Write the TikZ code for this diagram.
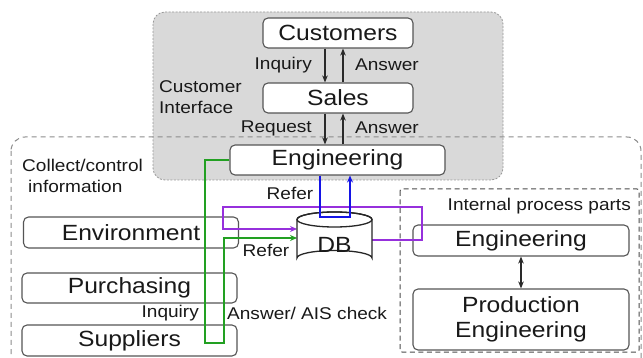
\documentclass[tikz,border=0pt]{standalone}
\usepackage{fontspec}
\setmainfont{Liberation Sans}[FakeStretch=1.12]
\usetikzlibrary{arrows.meta}
\newcommand\fbig{\fontsize{22}{25}\selectfont}
\newcommand\fsmall{\fontsize{17}{21}\selectfont}
\definecolor{boxc}{HTML}{555555}
\definecolor{grn}{HTML}{22A022}
\definecolor{blu}{HTML}{1414E6}
\definecolor{pur}{HTML}{9630DC}
\definecolor{darr}{HTML}{2A2A2A}
\tikzset{
  box/.style={draw=boxc, rounded corners=5, line width=1.1, fill=white, font=\fbig, inner sep=0, text=black!90},
  lbl/.style={font=\fsmall, inner sep=0, text=black!90},
  arr/.style={-{Stealth[length=7,width=5.5]}, line width=1.3, draw=darr},
  gline/.style={draw=grn, line width=1.5, -{Stealth[length=7,width=6]}},
  bline/.style={draw=blu, line width=1.5, -{Stealth[length=7,width=6]}},
  pline/.style={draw=pur, line width=1.5, -{Stealth[length=7,width=6]}},
}
\begin{document}
\begin{tikzpicture}[x=1pt,y=-1pt]
\clip (0,0) rectangle (643,358);
\fill[white] (0,0) rectangle (643,358);
% regions
\draw[fill=black!15, draw=black!40, line width=0.8, dash pattern=on 2pt off 1.5pt, rounded corners=12] (153,12) rectangle (503,180);
\draw[draw=black!45, line width=1.0, dash pattern=on 5pt off 4pt, rounded corners=14] (11,137) rectangle (641,400);
\draw[draw=black!70, line width=1.0, dash pattern=on 5pt off 3.5pt, rounded corners=2] (400,189) rectangle (639,352);
% nodes
\node[box, minimum width=150, minimum height=30] (cust) at (338,33) {Customers};
\node[box, minimum width=150, minimum height=30] (sales) at (338,98) {Sales};
\node[box, minimum width=215, minimum height=30] (eng) at (337.5,160) {Engineering};
\node[box, minimum width=215, minimum height=31] (env) at (131,232.5) {Environment};
\node[box, minimum width=215, minimum height=30] (pur) at (129.5,288) {Purchasing};
\node[box, minimum width=215, minimum height=31] (sup) at (129.5,340.5) {Suppliers};
\node[box, minimum width=216, minimum height=31] (eng2) at (521,240.5) {Engineering};
\node[box, minimum width=216, minimum height=61, align=center] (prod) at (521,319.5) {Production\\Engineering};
% labels
\node[lbl, anchor=west, align=left] (ci) at (159,97.5) {Customer\\Interface};
\node[lbl, anchor=west, align=left] (cc) at (22,175.5) {Collect/control\\\hspace{6pt}information};
\node[lbl, anchor=east] (ipp) at (631,206) {Internal process parts};
\node[lbl, anchor=east] (l1) at (312,65) {Inquiry};
\node[lbl, anchor=west] (l2) at (355,65) {Answer};
\node[lbl, anchor=east] (l3) at (312,128) {Request};
\node[lbl, anchor=west] (l4) at (355,128) {Answer};
\node[lbl] (l5) at (290,193) {Refer};
\node[lbl] (l6) at (266,250) {Refer};
\node[lbl, anchor=east] (l7) at (199,313) {Inquiry};
\node[lbl, anchor=west] (l8) at (227,313) {Answer/ AIS check};
% black arrows
\draw[arr] ([xshift=-13pt]cust.south) -- ([xshift=-13pt]sales.north);
\draw[arr] ([xshift=5pt]sales.north) -- ([xshift=5pt]cust.south);
\draw[arr] ([xshift=-13pt]sales.south) -- ([xshift=-12.5pt]eng.north);
\draw[arr] ([xshift=5.5pt]eng.north) -- ([xshift=5pt]sales.south);
\draw[line width=1.3, draw=darr, {Stealth[length=7,width=5.5]}-{Stealth[length=7,width=5.5]}] (eng2.south) -- (prod.north);
% coordinates
\coordinate (dbL1) at (297,229);
\coordinate (dbL2) at (297,238);
\coordinate (dbR) at (372,240);
\coordinate (pR) at (422,207);
\coordinate (pL) at (223,207);
\coordinate (gA) at (205,343);
\coordinate (gB) at (224,343);
\coordinate (bL) at (320,217);
\coordinate (bR) at (350,217);
% purple and green connectors
\draw[pline] (dbR) -| (pR) -- (pL) |- (dbL1);
\draw[gline] (eng.west) -| (gA) -- (gB) |- (dbL2);
% DB cylinder
\draw[line width=1.3, draw=black!85, fill=white] (297,219.5) -- (297,258) arc[start angle=180, end angle=360, x radius=37.5, y radius=7.5] -- (372,219.5) arc[start angle=0, end angle=-180, x radius=37.5, y radius=7.5];
\draw[line width=1.3, draw=black!85] (334.5,219.5) ellipse[x radius=37.5, y radius=7.5];
\node[font=\fbig, inner sep=0, text=black!90] (db) at (334.5,245) {DB};
% blue connector
\draw[bline] (eng.south -| bL) -- (bL) -- (bR) -- (eng.south -| bR);
\end{tikzpicture}
\end{document}
